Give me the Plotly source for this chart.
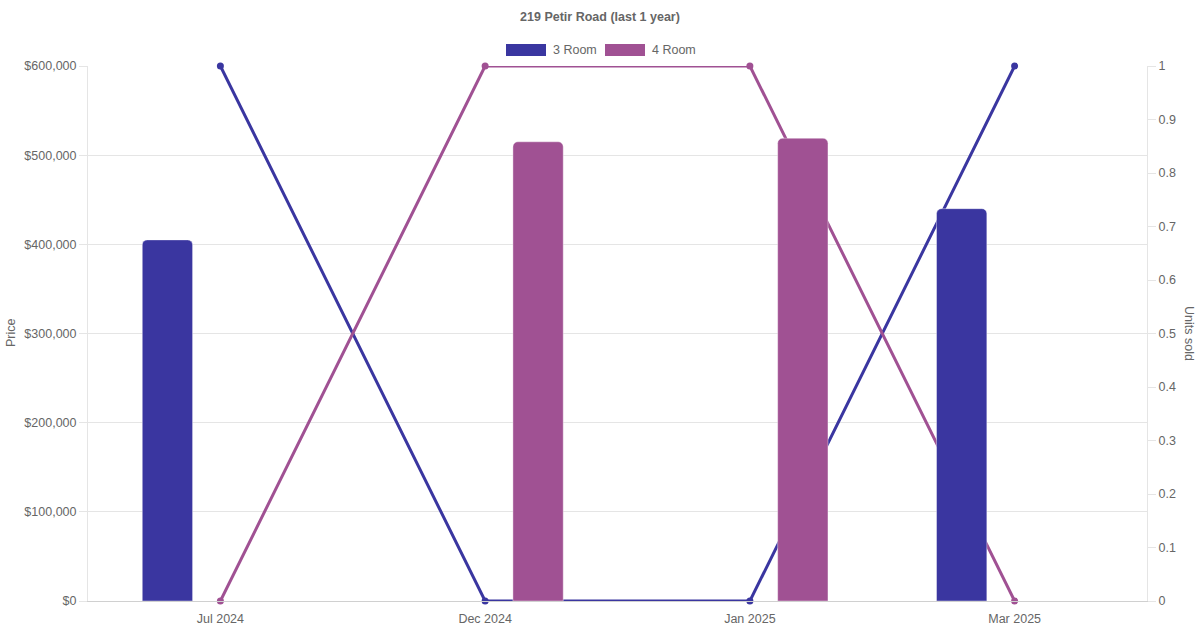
import plotly.graph_objects as go

months = ["Jul 2024", "Dec 2024", "Jan 2025", "Mar 2025"]
price_3room = [405000, None, None, 440000]
price_4room = [None, 515000, 519000, None]
units_3room = [1, 0, 0, 1]
units_4room = [0, 1, 1, 0]
price_ticks = [0, 100000, 200000, 300000, 400000, 500000, 600000]
price_ticklabels = ["$0", "$100,000", "$200,000", "$300,000", "$400,000", "$500,000", "$600,000"]

C3 = "#3a36a0"
C4 = "#a05193"
GRID = "#e5e5e5"
TXT = "#666666"
FONT = "Liberation Sans, Arial, sans-serif"

L, R, T, B = 88, 53, 66, 29
PW, PH = 1200 - L - R, 630 - T - B

def px_x(px):
    return (px - L) / PW

def px_y(py):
    return (630 - B - py) / PH

fig = go.Figure()

# lines on base axis (right, units)
fig.add_trace(go.Scatter(x=months, y=units_3room, mode="lines+markers", name="3 Room",
                         line=dict(color=C3, width=3), marker=dict(size=7, color=C3),
                         cliponaxis=False, yaxis="y", showlegend=False))
fig.add_trace(go.Scatter(x=months, y=units_4room, mode="lines+markers", name="4 Room",
                         line=dict(color=C4, width=3), marker=dict(size=7, color=C4),
                         cliponaxis=False, yaxis="y", showlegend=False))

# bars on overlay axis (left, price) so they draw above lines
bw = 0.19
fig.add_trace(go.Bar(x=months, y=price_3room, name="3 Room", marker=dict(color=C3, cornerradius=5,
                     line=dict(color="rgba(255,255,255,0.4)", width=1)),
                     width=bw, offset=-0.2 - bw / 2, yaxis="y2", showlegend=False))
fig.add_trace(go.Bar(x=months, y=price_4room, name="4 Room", marker=dict(color=C4, cornerradius=5,
                     line=dict(color="rgba(255,255,255,0.4)", width=1)),
                     width=bw, offset=0.2 - bw / 2, yaxis="y2", showlegend=False))

# custom legend (wide boxes like the reference)
legend_items = [("3 Room", C3, 506), ("4 Room", C4, 605)]
for label, col, px in legend_items:
    fig.add_shape(type="rect", xref="paper", yref="paper",
                  x0=px_x(px), x1=px_x(px + 40), y0=px_y(56), y1=px_y(44),
                  fillcolor=col, line=dict(width=0))
    fig.add_annotation(text=label, xref="paper", yref="paper",
                       x=px_x(px + 45), y=px_y(50),
                       xanchor="left", yanchor="middle", showarrow=False,
                       font=dict(size=12.5, color=TXT, family=FONT))

# axis titles
fig.add_annotation(text="Price", xref="paper", yref="paper", x=px_x(11), y=px_y(333),
                   textangle=-90, showarrow=False, xanchor="center", yanchor="middle",
                   font=dict(size=12.5, color=TXT, family=FONT))
fig.add_annotation(text="Units sold", xref="paper", yref="paper", x=px_x(1189), y=px_y(333),
                   textangle=90, showarrow=False, xanchor="center", yanchor="middle",
                   font=dict(size=12.5, color=TXT, family=FONT))

fig.update_layout(
    width=1200, height=630,
    margin=dict(l=L, r=R, t=T, b=B, autoexpand=False),
    paper_bgcolor="white", plot_bgcolor="white",
    font=dict(family=FONT, size=12.5, color=TXT),
    title=dict(text="<b>219 Petir Road (last 1 year)</b>", x=0.5, xanchor="center",
               y=1 - 17 / 630, yanchor="middle", automargin=False,
               font=dict(size=12.5, color=TXT, family=FONT)),
    barmode="overlay",
    showlegend=False,
    xaxis=dict(type="category", categoryorder="array", categoryarray=months,
               range=[-0.5, 3.5], showgrid=False, showline=True, linecolor="#d0d0d0",
               ticks="outside", ticklen=6, tickcolor="rgba(0,0,0,0)",
               tickfont=dict(size=12.5, color=TXT), zeroline=False, automargin=False),
    yaxis=dict(side="right", range=[0, 1], dtick=0.1, showgrid=False, zeroline=False,
               showline=True, linecolor=GRID, ticks="outside", ticklen=8, tickcolor=GRID,
               tickfont=dict(size=12.5, color=TXT), automargin=False),
    yaxis2=dict(overlaying="y", side="left", range=[0, 600000], tickvals=price_ticks,
                ticktext=price_ticklabels, showgrid=True, gridcolor=GRID, zeroline=False,
                showline=True, linecolor=GRID, ticks="outside", ticklen=8, tickcolor=GRID,
                tickfont=dict(size=12.5, color=TXT), automargin=False),
)

fig.write_html("out.html", config={"displayModeBar": False},
               post_script="document.body.style.margin='0px';document.body.style.overflow='hidden';")
